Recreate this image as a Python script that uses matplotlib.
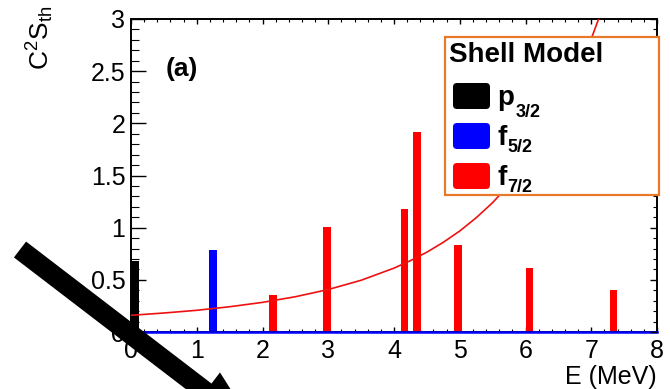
import matplotlib
matplotlib.use('Agg')
import matplotlib.pyplot as plt
from matplotlib.patches import FancyArrow, FancyBboxPatch, Rectangle
from matplotlib.transforms import Affine2D
from matplotlib.ticker import MultipleLocator

plt.rcParams['font.family'] = ['Liberation Sans', 'DejaVu Sans']
plt.rcParams['mathtext.fontset'] = 'custom'
plt.rcParams['mathtext.rm'] = 'Liberation Sans'
plt.rcParams['mathtext.it'] = 'Liberation Sans:italic'
plt.rcParams['mathtext.bf'] = 'Liberation Sans:bold'

# Shell-model spectroscopic strengths C^2 S per orbital (energy in MeV)
p32_energy = [0.065]
p32_strength = [0.68]
f52_energy = [1.25]
f52_strength = [0.79]
f72_energy = [2.16, 2.98, 4.16, 4.35, 4.97, 6.06, 7.34]
f72_strength = [0.35, 1.01, 1.18, 1.92, 0.83, 0.61, 0.40]

# Smooth reference trend
curve_energy = [0.0, 0.5, 1.0, 1.5, 2.0, 2.5, 3.0, 3.5, 4.0, 4.25, 4.5, 4.75,
                5.0, 5.25, 5.5, 5.75, 6.0, 6.25, 6.5, 6.75, 7.0, 7.1, 7.2]
curve_strength = [0.16, 0.182, 0.208, 0.242, 0.284, 0.338, 0.407, 0.496,
                  0.612, 0.684, 0.765, 0.86, 0.968, 1.095, 1.24, 1.41, 1.61,
                  1.84, 2.11, 2.43, 2.81, 2.98, 3.15]

legend_title = 'Shell Model'
legend_letters = ['p', 'f', 'f']
legend_subs = ['3/2', '5/2', '7/2']
legend_colors = ['#000000', '#0000ff', '#ff0000']

x_ticks = [0, 1, 2, 3, 4, 5, 6, 7, 8]
y_ticks = [0, 0.5, 1, 1.5, 2, 2.5, 3]
y_tick_labels = ['0', '0.5', '1', '1.5', '2', '2.5', '3']

bar_width = 0.115
W, H = 670, 389

fig = plt.figure(figsize=(W / 100, H / 100), dpi=100)
# pixel coordinates with origin at top-left
px = Affine2D().scale(1 / W, -1 / H).translate(0, 1) + fig.transFigure

ax = fig.add_axes([131 / W, (H - 332) / H, 526 / W, 313 / H])
ax.set_xlim(0, 8)
ax.set_ylim(0, 3)

ax.bar(p32_energy, p32_strength, width=bar_width, color=legend_colors[0], zorder=2)
ax.bar(f52_energy, f52_strength, width=bar_width, color=legend_colors[1], zorder=2)
ax.bar(f72_energy, f72_strength, width=bar_width, color=legend_colors[2], zorder=2)
ax.plot(curve_energy, curve_strength, color='#ee1111', lw=1.2, zorder=3)
ax.axhline(0, color='#0000ff', lw=1.8, zorder=4, clip_on=False)

ax.set_xticks(x_ticks)
ax.set_xticklabels([str(t) for t in x_ticks])
ax.xaxis.set_minor_locator(MultipleLocator(0.2))
ax.set_yticks(y_ticks)
ax.set_yticklabels(y_tick_labels)
ax.yaxis.set_minor_locator(MultipleLocator(0.1))

for s in ax.spines.values():
    s.set_linewidth(1.4)
    s.set_color('black')

ax.tick_params(axis='x', which='major', direction='in', length=3.6, width=1.0,
               top=True, bottom=True, labelsize=18, pad=5)
ax.tick_params(axis='x', which='minor', direction='in', length=2.0, width=0.8,
               top=True, bottom=True)
ax.tick_params(axis='y', which='major', direction='in', length=11, width=1.0,
               left=True, right=False, labelsize=18, pad=4)
ax.tick_params(axis='y', which='minor', direction='in', length=6, width=0.8,
               left=True, right=False)

# shorter ticks on the right-hand frame
axr = ax.twinx()
axr.set_ylim(0, 3)
axr.set_yticks(y_ticks)
axr.yaxis.set_minor_locator(MultipleLocator(0.1))
axr.tick_params(axis='y', which='major', direction='in', length=5, width=1.0,
                labelright=False)
axr.tick_params(axis='y', which='minor', direction='in', length=3, width=0.8)
for s in axr.spines.values():
    s.set_visible(False)

ax.text(0.065, 0.84, '(a)', transform=ax.transAxes, fontsize=19,
        fontweight='bold', ha='left', va='center')

fig.text(657 / W, 1 - 377 / H, 'E (MeV)', fontsize=18, ha='right', va='center')
fig.text(40 / W, 1 - 6 / H, r'C$^{2}$S$_{\rm th}$', fontsize=19, rotation=90,
         ha='center', va='top')

# legend box
fig.add_artist(Rectangle((445, 37), 214, 158, transform=px, facecolor='white',
                         edgecolor='#e8782a', lw=1.6, zorder=5))
fig.text(449 / W, 1 - 55 / H, legend_title, fontsize=20, fontweight='bold',
         ha='left', va='center', zorder=6)
sub_drop = [21, 16, 16]
sub_x = [516, 507, 507]
for i, (letter, sub, col) in enumerate(zip(legend_letters, legend_subs,
                                           legend_colors)):
    yc = 96 + 40 * i
    fig.add_artist(FancyBboxPatch((453, yc - 13), 37, 26,
                                  boxstyle='round,pad=0,rounding_size=4',
                                  transform=px, facecolor=col, edgecolor='none',
                                  zorder=6))
    fig.text(497 / W, 1 - (yc + 9) / H, letter, fontsize=20, fontweight='bold',
             ha='left', va='baseline', zorder=6)
    fig.text(sub_x[i] / W, 1 - (yc + sub_drop[i]) / H, sub, fontsize=13,
             fontweight='bold', ha='left', va='baseline', zorder=6)

# annotation arrow
fig.add_artist(FancyArrow(20, 249.5, 237, 181.5, width=20, head_width=48,
                          head_length=65, length_includes_head=True,
                          transform=px, color='black', lw=0, zorder=10,
                          clip_on=False))

fig.savefig('out.png', dpi=100)
